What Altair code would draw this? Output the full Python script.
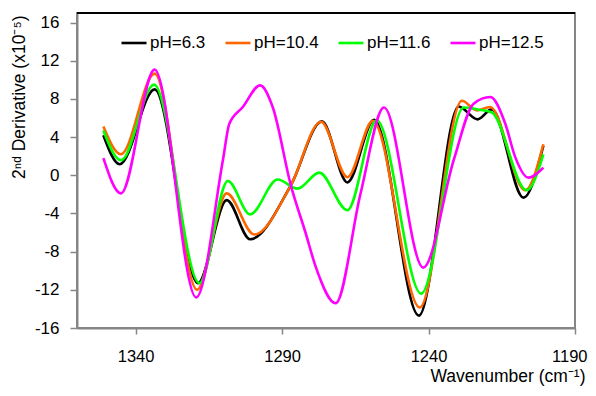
import altair as alt
import pandas as pd

series = ["pH=6.3", "pH=10.4", "pH=11.6", "pH=12.5"]
colors = ["#000000", "#FF6600", "#00FF00", "#FF00FF"]

wn_63 = [1351, 1345.4, 1333.5, 1318.7, 1308.9, 1300.9, 1287, 1276.4, 1267.7, 1258.6, 1243.3, 1229.7, 1223.3, 1218.4, 1207.6, 1200.8]
d_63 = [4.2, 1.15, 9.0, -11.3, -2.6, -6.7, -1.05, 5.65, -0.75, 5.8, -14.7, 7.2, 5.86, 6.9, -2.34, 3.1]

wn_104 = [1351, 1345, 1333.5, 1319, 1308.9, 1299.5, 1287, 1276.7, 1267.7, 1259, 1243, 1228.6, 1223.5, 1219, 1207, 1200.8]
d_104 = [5.1, 2.2, 10.65, -12.0, -1.9, -6.2, -1.05, 5.6, -0.2, 5.7, -13.85, 7.8, 6.8, 7.15, -1.57, 3.25]

wn_116 = [1351, 1345, 1333.7, 1318.2, 1308.5, 1300.9, 1291.5, 1284.7, 1277.3, 1267.7, 1257.7, 1242.5, 1228, 1223.3, 1218.5, 1206.5, 1200.8]
d_116 = [4.7, 1.57, 9.5, -11.3, -0.6, -4.1, -0.45, -1.4, 0.28, -3.66, 5.76, -12.4, 7.1, 6.9, 6.6, -1.57, 2.2]

wn_125 = [1351, 1345, 1333.5, 1319.3, 1310.2, 1308, 1303.4, 1297.5, 1293.2, 1287, 1281.9, 1278.5, 1271.7, 1263.2, 1255.2, 1241.8, 1231.4, 1224.6, 1218.9, 1213.8, 1210.4, 1205.9, 1200.8]
d_125 = [1.8, -1.9, 11.07, -12.8, 1.57, 5.4, 7.15, 9.42, 7.15, -1.05, -6.1, -9.6, -13.4, -1.9, 7.1, -9.67, 1.6, 7.5, 8.2, 5.4, 1.9, -0.25, 0.8]

x_ticks = [1340, 1290, 1240, 1190]
y_ticks = [-16, -12, -8, -4, 0, 4, 8, 12, 16]

rows = []
for name, wns, vals in zip(series, [wn_63, wn_104, wn_116, wn_125], [d_63, d_104, d_116, d_125]):
    for i, (w, v) in enumerate(zip(wns, vals)):
        rows.append({"series": name, "wn": w, "d": v, "i": i})
df = pd.DataFrame(rows)

FONT = "Liberation Sans"
GRAY = "#868686"
W, H = 498, 315

lines = alt.Chart(df).mark_line(interpolate="monotone", strokeWidth=2.6).encode(
    x=alt.X("wn:Q",
            scale=alt.Scale(domain=[1190, 1360], reverse=True, nice=False, zero=False),
            axis=alt.Axis(values=x_ticks, title="Wavenumber (cm⁻¹)", grid=False,
                          labelExpr="'' + datum.value",
                          domainColor=GRAY, domainWidth=2, tickColor=GRAY, tickWidth=1.5, tickSize=6,
                          labelFont=FONT, labelFontSize=16.5, labelColor="#000000", labelPadding=14,
                          labelFlush=True, labelFlushOffset=12,
                          titleFont=FONT, titleFontSize=17.5, titleFontWeight="normal", titleColor="#000000",
                          titleAlign="right", titleBaseline="alphabetic", titleX=508, titleY=53)),
    y=alt.Y("d:Q",
            scale=alt.Scale(domain=[-16, 17], nice=False, zero=False),
            axis=alt.Axis(values=y_ticks, title="2ⁿᵈ Derivative (x10⁻⁵)", grid=False,
                          labelExpr="'' + datum.value",
                          domainColor=GRAY, domainWidth=2, tickColor=GRAY, tickWidth=1.5, tickSize=7,
                          labelFont=FONT, labelFontSize=17, labelColor="#000000", labelPadding=11,
                          titleFont=FONT, titleFontSize=17.5, titleFontWeight="normal", titleColor="#000000",
                          titleAngle=-90, titleAlign="right", titleBaseline="middle", titleX=-58, titleY=2)),
    color=alt.Color("series:N", scale=alt.Scale(domain=series, range=colors),
                    legend=alt.Legend(title=None, orient="none", legendX=43, legendY=16, direction="horizontal",
                                      symbolType="stroke", symbolSize=625, symbolStrokeWidth=2.6,
                                      labelFont=FONT, labelFontSize=17, labelColor="#000000",
                                      labelOffset=2, columnPadding=14, padding=0)),
    order=alt.Order("i:Q"),
)

top_line = alt.Chart(df).mark_rule(color="#000000", strokeWidth=1).encode(
    y=alt.value(0), x=alt.value(0), x2=alt.value(W))

chart = alt.layer(lines, top_line).properties(
    width=W, height=H,
    autosize=alt.AutoSizeParams(type="none"),
    padding={"left": 69, "top": 5, "right": 13, "bottom": 60},
).configure_view(stroke=GRAY, strokeWidth=2)

chart.save("out.html", embed_options={"renderer": "svg", "actions": False})
